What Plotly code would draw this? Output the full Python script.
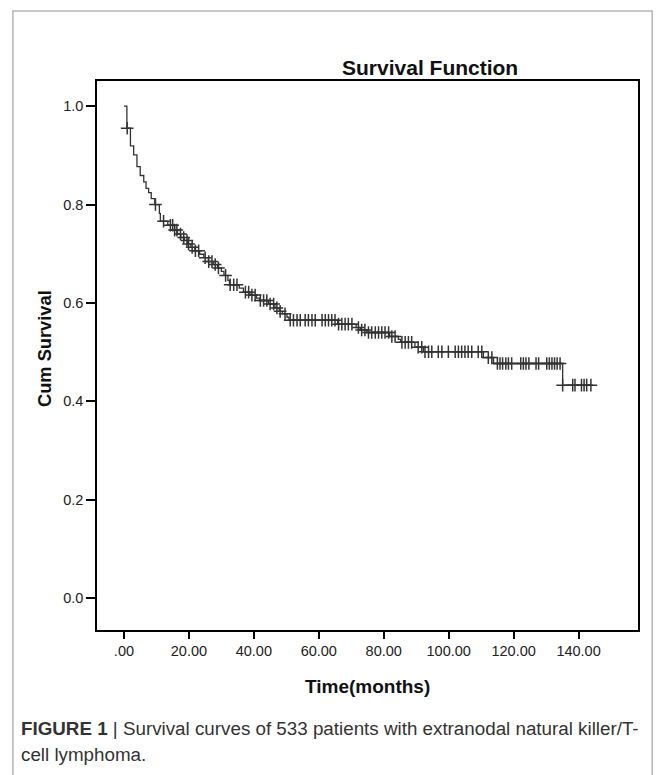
import numpy as np
import plotly.graph_objects as go

# Kaplan-Meier step function (time in months, cumulative survival after the step)
step_times = [0.0, 0.9, 2.0, 3.0, 4.0, 5.0, 6.1, 6.8, 7.6, 8.4, 9.5, 10.9, 11.2,
              13.5, 15.6, 16.5, 17.5, 18.6, 19.6, 20.6, 21.8, 23.3, 24.6, 26.0,
              27.5, 28.8, 30.0, 30.8, 32.0, 32.5, 35.5, 36.8, 38.8, 40.8, 41.8,
              44.5, 46.5, 47.8, 48.8, 50.2, 50.8, 65.8, 71.5, 72.8, 74.8, 81.8,
              84.5, 85.2, 89.6, 92.2, 110.7, 113.8, 135.1]
step_surv = [1.000, 0.955, 0.919, 0.901, 0.877, 0.859, 0.846, 0.833, 0.824, 0.812,
             0.800, 0.782, 0.766, 0.758, 0.748, 0.740, 0.733, 0.727, 0.720, 0.713,
             0.706, 0.699, 0.692, 0.684, 0.678, 0.671, 0.664, 0.656, 0.646, 0.637,
             0.630, 0.622, 0.616, 0.610, 0.605, 0.598, 0.590, 0.583, 0.578, 0.571,
             0.565, 0.557, 0.550, 0.545, 0.540, 0.532, 0.526, 0.520, 0.510, 0.501,
             0.489, 0.477, 0.433]
end_time = 143.8

# Censored observations (months)
censor_times = [1.0, 9.7, 12.2, 14.3, 15.0, 15.6, 16.3, 17.4, 18.4, 19.4, 19.9, 21.0,
                22.0, 23.0, 25.0, 26.1, 27.1, 28.1, 29.1, 31.3, 32.7, 33.8, 34.8,
                37.4, 38.4, 39.4, 40.4, 42.0, 43.0, 44.0, 45.0, 46.1, 47.1, 48.1,
                49.6, 51.2, 52.2, 53.3, 54.3, 55.8, 56.8, 57.9, 58.9, 61.0, 62.0,
                63.0, 64.0, 65.0, 66.1, 67.1, 68.1, 69.1, 70.2, 72.2, 73.2, 74.2,
                75.3, 76.3, 77.4, 78.4, 79.4, 80.4, 81.5, 82.5, 83.5, 85.6, 86.6,
                87.6, 88.6, 90.6, 91.7, 92.7, 93.8, 94.8, 96.8, 97.9, 99.9, 102.0,
                103.0, 104.0, 105.0, 106.0, 107.1, 109.1, 110.2, 112.2, 113.3,
                115.0, 115.8, 116.6, 117.6, 118.4, 119.4, 122.2, 123.0, 123.8,
                124.7, 126.9, 127.7, 130.2, 131.0, 131.8, 132.6, 133.4, 134.3,
                135.1, 138.2, 138.9, 140.9, 141.7, 142.5, 143.8]

x_tick_vals = [0, 20, 40, 60, 80, 100, 120, 140]
x_tick_text = [".00", "20.00", "40.00", "60.00", "80.00", "100.00", "120.00", "140.00"]
y_tick_vals = [0.0, 0.2, 0.4, 0.6, 0.8, 1.0]
y_tick_text = ["0.0", "0.2", "0.4", "0.6", "0.8", "1.0"]

title_text = "Survival Function"
x_title = "Time(months)"
y_title = "Cum Survival"
caption_1 = "<b>FIGURE 1</b> | Survival curves of 533 patients with extranodal natural killer/T-"
caption_2 = "cell lymphoma."

st = np.array(step_times)
ss = np.array(step_surv)
idx = np.searchsorted(st, np.array(censor_times), side="right") - 1
censor_surv = ss[idx]

line_x = list(step_times) + [end_time]
line_y = list(step_surv) + [step_surv[-1]]

W, H = 663, 775
L, R, T, B = 96.7, 638.3, 81.0, 629.6
pw, ph = R - L, B - T


def px(xp):
    return (xp - L) / pw


def py(yp):
    return (B - yp) / ph


fig = go.Figure()
fig.add_trace(go.Scatter(x=line_x, y=line_y, mode="lines", line_shape="hv",
                         line=dict(color="#333333", width=1.3),
                         showlegend=False, hoverinfo="skip"))
fig.add_trace(go.Scatter(x=censor_times, y=censor_surv, mode="markers",
                         marker=dict(symbol="cross-thin", size=9,
                                     line=dict(color="#333333", width=1.5)),
                         showlegend=False))

font_main = "Arial, Liberation Sans, sans-serif"

fig.update_layout(
    width=W, height=H,
    margin=dict(l=L, r=W - R, t=T, b=H - B, pad=0),
    paper_bgcolor="white", plot_bgcolor="white",
    font=dict(family=font_main, color="#222222"),
    xaxis=dict(range=[-8.3, 158.3], tickvals=x_tick_vals, ticktext=x_tick_text,
               showgrid=False, zeroline=False, showline=True, mirror=True,
               linecolor="black", linewidth=1.5, ticks="outside", ticklen=7,
               tickwidth=1.5, tickcolor="black",
               tickfont=dict(size=14.5, family=font_main, color="#222222")),
    yaxis=dict(range=[-0.0645, 1.051], tickvals=y_tick_vals, ticktext=y_tick_text,
               showgrid=False, zeroline=False, showline=True, mirror=True,
               linecolor="black", linewidth=1.5, ticks="outside", ticklen=9,
               tickwidth=1.5, tickcolor="black",
               tickfont=dict(size=14.5, family=font_main, color="#222222")),
    shapes=[dict(type="rect", xref="paper", yref="paper",
                 x0=px(12.5), x1=px(652.5), y0=py(800), y1=py(11),
                 line=dict(color="#b5b5b5", width=1.5), fillcolor="rgba(0,0,0,0)",
                 layer="below")],
    annotations=[
        dict(text="<b>%s</b>" % title_text, xref="paper", yref="paper",
             x=px(430), y=py(68), xanchor="center", yanchor="middle",
             showarrow=False, font=dict(size=21, family=font_main, color="#111111")),
        dict(text="<b>%s</b>" % y_title, xref="paper", yref="paper",
             x=px(44), y=py(348.5), xanchor="center", yanchor="middle",
             textangle=-90, showarrow=False,
             font=dict(size=18.3, family=font_main, color="#111111")),
        dict(text="<b>%s</b>" % x_title, xref="paper", yref="paper",
             x=px(367), y=py(686), xanchor="center", yanchor="middle",
             showarrow=False, font=dict(size=19, family=font_main, color="#111111")),
        dict(text=caption_1, xref="paper", yref="paper",
             x=px(19), y=py(728), xanchor="left", yanchor="middle",
             showarrow=False, font=dict(size=18.8, family=font_main, color="#333333")),
        dict(text=caption_2, xref="paper", yref="paper",
             x=px(19), y=py(754), xanchor="left", yanchor="middle",
             showarrow=False, font=dict(size=18.8, family=font_main, color="#333333")),
    ],
)

fig.write_html("out.html", config={"displayModeBar": False},
               post_script="document.body.style.margin='0';document.body.style.padding='0';")
